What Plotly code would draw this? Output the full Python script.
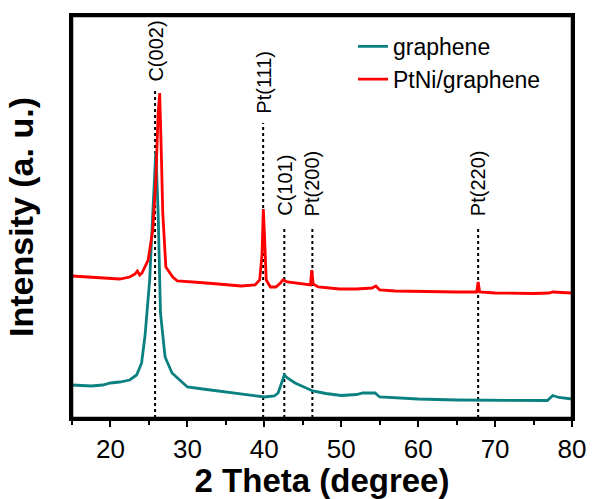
import plotly.graph_objects as go

# graphene XRD pattern (arbitrary units)
g_x = [15, 16, 17.5, 19, 20, 21.2, 22.5, 23.4, 24.05, 24.5, 25.1, 25.5, 25.9, 26.2, 26.5, 27.1,
       28.0, 29.0, 30, 32, 35, 38, 40, 41.3, 41.8, 42.2, 42.6, 43.0, 44, 46.3, 48, 50, 52, 52.8,
       54.4, 55, 60, 65, 70, 75, 76.8, 77.5, 78.3, 80]
g_y = [33, 32.5, 32, 33, 35, 36, 38, 43, 55, 83, 138, 205, 267, 205, 105, 61,
       45, 38, 31, 29, 26, 23, 21, 22, 25, 34, 43, 40, 35, 27, 24.5, 22.5, 23.5, 25,
       25, 21, 19, 18, 17.5, 17, 17.5, 22.5, 20.5, 19]

# PtNi/graphene XRD pattern (arbitrary units)
p_x = [15, 17, 19, 21.2, 22.5, 23.2, 23.5, 23.8, 24.1, 24.9, 25.5, 25.9, 26.2, 26.4, 26.6, 26.8,
       27.2, 27.7, 28.1, 28.7, 30, 31.6, 34, 37, 38.8, 39.4, 39.7, 39.87, 40.05, 40.25, 40.8,
       41.5, 42.1, 42.4, 43.0, 44.6, 46.0, 46.16, 46.35, 47, 49.8, 52, 54, 54.5, 55, 57, 60,
       65, 67.6, 67.8, 68.0, 70, 75, 77.0, 77.5, 78.3, 80]
p_y = [142, 141, 139.5, 139, 141, 144, 147, 143, 145, 158, 188, 238, 305, 325, 268, 205,
       151, 145, 141, 137, 136, 135.5, 134, 132, 133, 138, 163, 209, 178, 138, 131,
       131, 135, 138, 136, 134, 133, 148, 134, 131, 129, 129, 130, 132, 128, 127, 126.5,
       126, 126, 136, 126, 125, 124.5, 125, 126, 125.5, 125]

# reflections
peak_pos = [25.8, 39.85, 42.6, 46.25, 67.8]
peak_labels = ["C(002)", "Pt(111)", "C(101)", "Pt(200)", "Pt(220)"]
label_level = [335, 303, 201, 201, 201]
line_top = [328, 295, 191, 191, 191]

x_ticks = [20, 30, 40, 50, 60, 70, 80]

TEAL = "#0b8080"
RED = "#ff0000"

fig = go.Figure()
fig.add_trace(go.Scatter(x=g_x, y=g_y, mode="lines", name="graphene",
                         line=dict(color=TEAL, width=2.8)))
fig.add_trace(go.Scatter(x=p_x, y=p_y, mode="lines", name="PtNi/graphene",
                         line=dict(color=RED, width=2.8)))

for xp, lab, lv, lt in zip(peak_pos, peak_labels, label_level, line_top):
    fig.add_shape(type="line", x0=xp, x1=xp, y0=0, y1=lt, xref="x", yref="y",
                  line=dict(color="black", width=2, dash="dot"), layer="below")
    fig.add_annotation(x=xp, y=lv, text=lab, textangle=-90, showarrow=False,
                       xanchor="center", yanchor="bottom", font=dict(size=20, color="black"),
                       borderpad=0)

# plot frame
fig.add_shape(type="rect", xref="paper", yref="paper", x0=0, x1=1, y0=0, y1=1,
              line=dict(color="black", width=2.5), layer="above")

fig.update_layout(
    width=592, height=499,
    margin=dict(l=72, r=20, t=16, b=81),
    plot_bgcolor="white", paper_bgcolor="white",
    font=dict(family="Arial, Liberation Sans, sans-serif", color="black"),
    showlegend=True,
    legend=dict(x=0.562, y=0.978, xanchor="left", yanchor="top",
                font=dict(size=23), bgcolor="rgba(0,0,0,0)", tracegroupgap=0),
)
fig.update_xaxes(range=[15, 80], tickvals=x_ticks, ticks="outside", ticklen=6, tickwidth=2,
                 tickcolor="black", showline=True, linewidth=2.5, linecolor="black", mirror=True,
                 showgrid=False, zeroline=False, tickfont=dict(size=26), automargin=False,
                 minor=dict(dtick=5, tick0=15, ticks="outside", ticklen=4, tickwidth=2,
                            tickcolor="black", showgrid=False),
                 title=dict(text="<b>2 Theta (degree)</b>", font=dict(size=33), standoff=2))
fig.update_yaxes(range=[0, 402], showticklabels=False, ticks="", showline=True, linewidth=2.5,
                 linecolor="black", mirror=True, showgrid=False, zeroline=False, automargin=False,
                 title=dict(text="<b>Intensity (a. u.)</b>", font=dict(size=34), standoff=26))

css = ("var s=document.documentElement.style;s.margin='0';s.padding='0';s.overflow='hidden';"
       "var b=document.body.style;b.margin='0';b.padding='0';b.overflow='hidden';")
fig.write_html("out.html", config={"displayModeBar": False}, post_script=css)
